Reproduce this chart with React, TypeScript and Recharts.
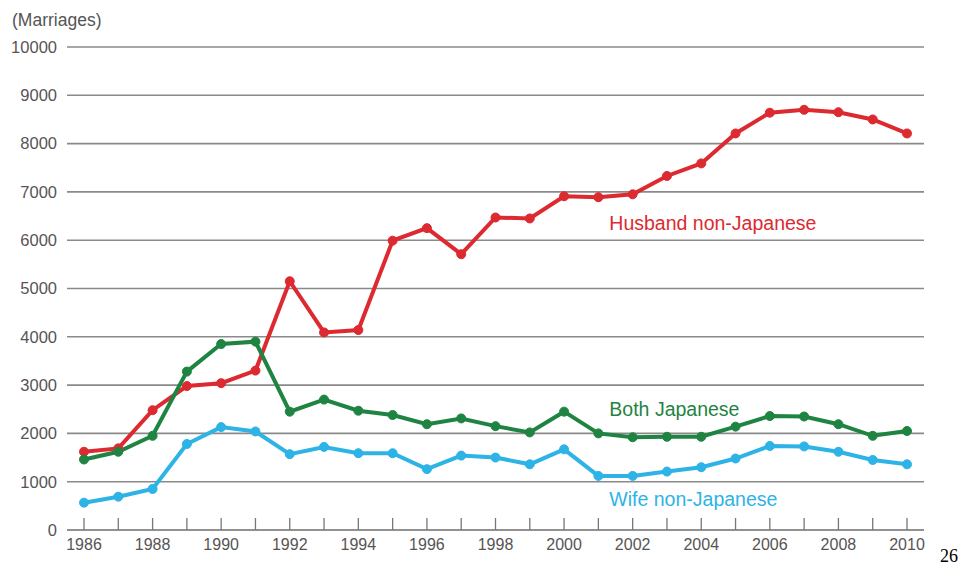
import React from 'react';
import { LineChart, Line, XAxis, YAxis, CartesianGrid, ReferenceDot } from 'recharts';

const years = [1986, 1987, 1988, 1989, 1990, 1991, 1992, 1993, 1994, 1995, 1996, 1997, 1998, 1999, 2000, 2001, 2002, 2003, 2004, 2005, 2006, 2007, 2008, 2009, 2010];

const husbandNonJapanese = [1620, 1690, 2480, 2980, 3040, 3300, 5150, 4090, 4140, 5990, 6250, 5710, 6470, 6450, 6910, 6890, 6950, 7330, 7590, 8210, 8640, 8700, 8650, 8500, 8210];
const bothJapanese = [1460, 1620, 1950, 3280, 3850, 3900, 2450, 2700, 2470, 2380, 2190, 2310, 2150, 2020, 2450, 2000, 1920, 1930, 1930, 2140, 2360, 2350, 2190, 1950, 2050];
const wifeNonJapanese = [566, 690, 850, 1780, 2130, 2040, 1570, 1720, 1590, 1590, 1260, 1540, 1500, 1360, 1670, 1120, 1120, 1210, 1300, 1480, 1740, 1730, 1620, 1450, 1360];

const yTicks = [0, 1000, 2000, 3000, 4000, 5000, 6000, 7000, 8000, 9000, 10000];
const xTicks = years;

const RED = '#dc2a30';
const GREEN = '#1f8442';
const BLUE = '#2db3e6';
const FONT = 'Liberation Sans, Arial, sans-serif';

const data = years.map((year, i) => ({
  year,
  husband: husbandNonJapanese[i],
  both: bothJapanese[i],
  wife: wifeNonJapanese[i],
}));

// Year ticks: short inward marks every year, labels on even years only
const YearTick = (props: any) => {
  const { x, y, payload } = props;
  const axisY = y - 10;
  return (
    <g>
      <line x1={x} x2={x} y1={axisY} y2={axisY - 12} stroke="#777" strokeWidth={1.3} />
      {payload.value % 2 === 0 && (
        <text x={x} y={axisY + 20} textAnchor="middle" fill="#555" fontSize={16} fontFamily={FONT}>
          {payload.value}
        </text>
      )}
    </g>
  );
};

const seriesLabels = [
  { text: 'Husband non-Japanese', year: 2001.32, value: 6350, color: RED },
  { text: 'Both Japanese', year: 2001.32, value: 2510, color: GREEN },
  { text: 'Wife non-Japanese', year: 2001.32, value: 640, color: BLUE },
];

export default function App() {
  return (
    <div style={{ position: 'absolute', left: 0, top: 0, width: 961, height: 566, background: '#fff' }}>
      <LineChart width={961} height={566} data={data} margin={{ top: 47, right: 37, bottom: 6, left: 0 }}>
        <CartesianGrid vertical={false} stroke="#8a8a8a" strokeWidth={1.6} />
        <XAxis
          dataKey="year"
          type="number"
          domain={[1986, 2010]}
          ticks={xTicks}
          interval={0}
          padding={{ left: 17, right: 17 }}
          height={30}
          axisLine={{ stroke: '#8a8a8a', strokeWidth: 1.6 }}
          tickLine={false}
          tickSize={0}
          tickMargin={10}
          tick={<YearTick />}
        />
        <YAxis
          domain={[0, 10000]}
          ticks={yTicks}
          interval={0}
          width={67}
          axisLine={false}
          tickLine={false}
          tickSize={0}
          tickMargin={10}
          tick={{ fill: '#555', fontSize: 16.5, fontFamily: FONT }}
        />
        <Line dataKey="husband" stroke={RED} strokeWidth={4} dot={{ r: 4.5, fill: RED, stroke: RED, strokeWidth: 1 }} isAnimationActive={false} />
        <Line dataKey="both" stroke={GREEN} strokeWidth={4} dot={{ r: 4.5, fill: GREEN, stroke: GREEN, strokeWidth: 1 }} isAnimationActive={false} />
        <Line dataKey="wife" stroke={BLUE} strokeWidth={4} dot={{ r: 4.5, fill: BLUE, stroke: BLUE, strokeWidth: 1 }} isAnimationActive={false} />
        {seriesLabels.map((l) => (
          <ReferenceDot
            key={l.text}
            x={l.year}
            y={l.value}
            r={0}
            ifOverflow="visible"
            label={{ value: l.text, position: 'right', fill: l.color, fontSize: 19.5, fontFamily: FONT, offset: 0 }}
          />
        ))}
        <text x={12} y={26} fill="#555" fontSize={17.5} fontFamily={FONT}>(Marriages)</text>
      </LineChart>
      <div style={{ position: 'absolute', left: 940, top: 547, fontFamily: 'Liberation Serif, serif', fontSize: 18, lineHeight: 1, color: '#000' }}>26</div>
    </div>
  );
}
